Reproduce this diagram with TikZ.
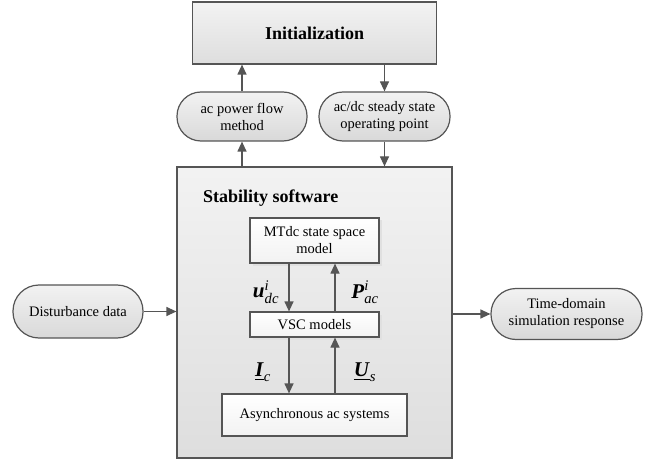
\documentclass[tikz,border=0pt]{standalone}
\usepackage{fontspec}
\usepackage{amsmath}
\setmainfont{Liberation Serif}
\usetikzlibrary{arrows.meta,shadows}
\definecolor{edge}{HTML}{555555}
\tikzset{
  base/.style={draw=edge, line width=1.2pt, inner sep=2pt, align=center,
    font=\fontsize{14.5}{17}\selectfont},
  graybox/.style={base, top color=black!5, bottom color=black!13},
  pill/.style={base, top color=black!5, bottom color=black!15, rounded corners=24pt},
  whitebox/.style={base, top color=white, bottom color=black!5,
    drop shadow={shadow xshift=2.5pt, shadow yshift=-2.5pt, fill=black!12, opacity=1}},
  arr/.style={draw=edge, line width=1.2pt, -{Triangle[length=10pt,width=9pt]}},
  lab/.style={inner sep=0pt, font=\fontsize{21}{22}\selectfont},
}
\begin{document}
\begin{tikzpicture}[x=1pt,y=-1pt]
\useasboundingbox (0,0) rectangle (647,462);
\node[graybox, minimum width=244pt, minimum height=62pt,
  font=\fontsize{18}{20}\selectfont\bfseries] (init) at (314.5,33) {Initialization};
\node[pill, minimum width=130pt, minimum height=49pt] (pf) at (242,116.5) {ac power flow\\method};
\node[pill, minimum width=131pt, minimum height=49pt] (ss) at (384.5,116.5) {ac/dc steady state\\operating point};
\node[graybox, minimum width=275pt, minimum height=291pt] (stab) at (314.5,312.5) {};
\node[anchor=base west, inner sep=0pt, font=\fontsize{18}{20}\selectfont\bfseries] (stablab) at (203,203) {Stability software};
\node[whitebox, minimum width=129pt, minimum height=45pt] (mtdc) at (314.5,240.5) {MTdc state space\\model};
\node[whitebox, minimum width=129pt, minimum height=25pt] (vsc) at (314.5,324.5) {VSC models};
\node[whitebox, minimum width=185pt, minimum height=42pt] (async) at (314.5,415) {Asynchronous ac systems};
\node[pill, minimum width=130pt, minimum height=53pt, rounded corners=26pt] (dist) at (78,311.5) {Disturbance data};
\node[pill, minimum width=151pt, minimum height=51pt, rounded corners=25pt] (time) at (566.5,314) {Time-domain\\simulation response};
% arrows
\draw[arr] (pf.north) -- (pf.north |- init.south);
\draw[arr] (stab.north -| pf.south) -- (pf.south);
\draw[arr] (init.south -| ss.north) -- (ss.north);
\draw[arr] (ss.south) -- (ss.south |- stab.north);
\draw[arr] (dist.east) -- (dist.east -| stab.west);
\draw[arr] (stab.east |- time.west) -- (time.west);
\draw[arr] ([xshift=-25.5pt]mtdc.south) -- ([xshift=-25.5pt]mtdc.south |- vsc.north);
\draw[arr] ([xshift=20.5pt]vsc.north) -- ([xshift=20.5pt]vsc.north |- mtdc.south);
\draw[arr] ([xshift=-25.5pt]vsc.south) -- ([xshift=-25.5pt]vsc.south |- async.north);
\draw[arr] ([xshift=20.5pt]async.north) -- ([xshift=20.5pt]async.north |- vsc.south);
% labels
\node[lab] (ul) at (266,292) {$\textbf{\textit{u}}^{\textit{i}}_{\textit{dc}}$};
\node[lab] (pl) at (365,292) {$\textbf{\textit{P}}^{\textit{i}}_{\textit{ac}}$};
\node[lab] (il) at (263,372) {$\underline{\textbf{\textit{I}}}_{\textit{c}}$};
\node[lab] (sl) at (365,372) {$\underline{\textbf{\textit{U}}}_{\textit{s}}$};
\end{tikzpicture}
\end{document}
